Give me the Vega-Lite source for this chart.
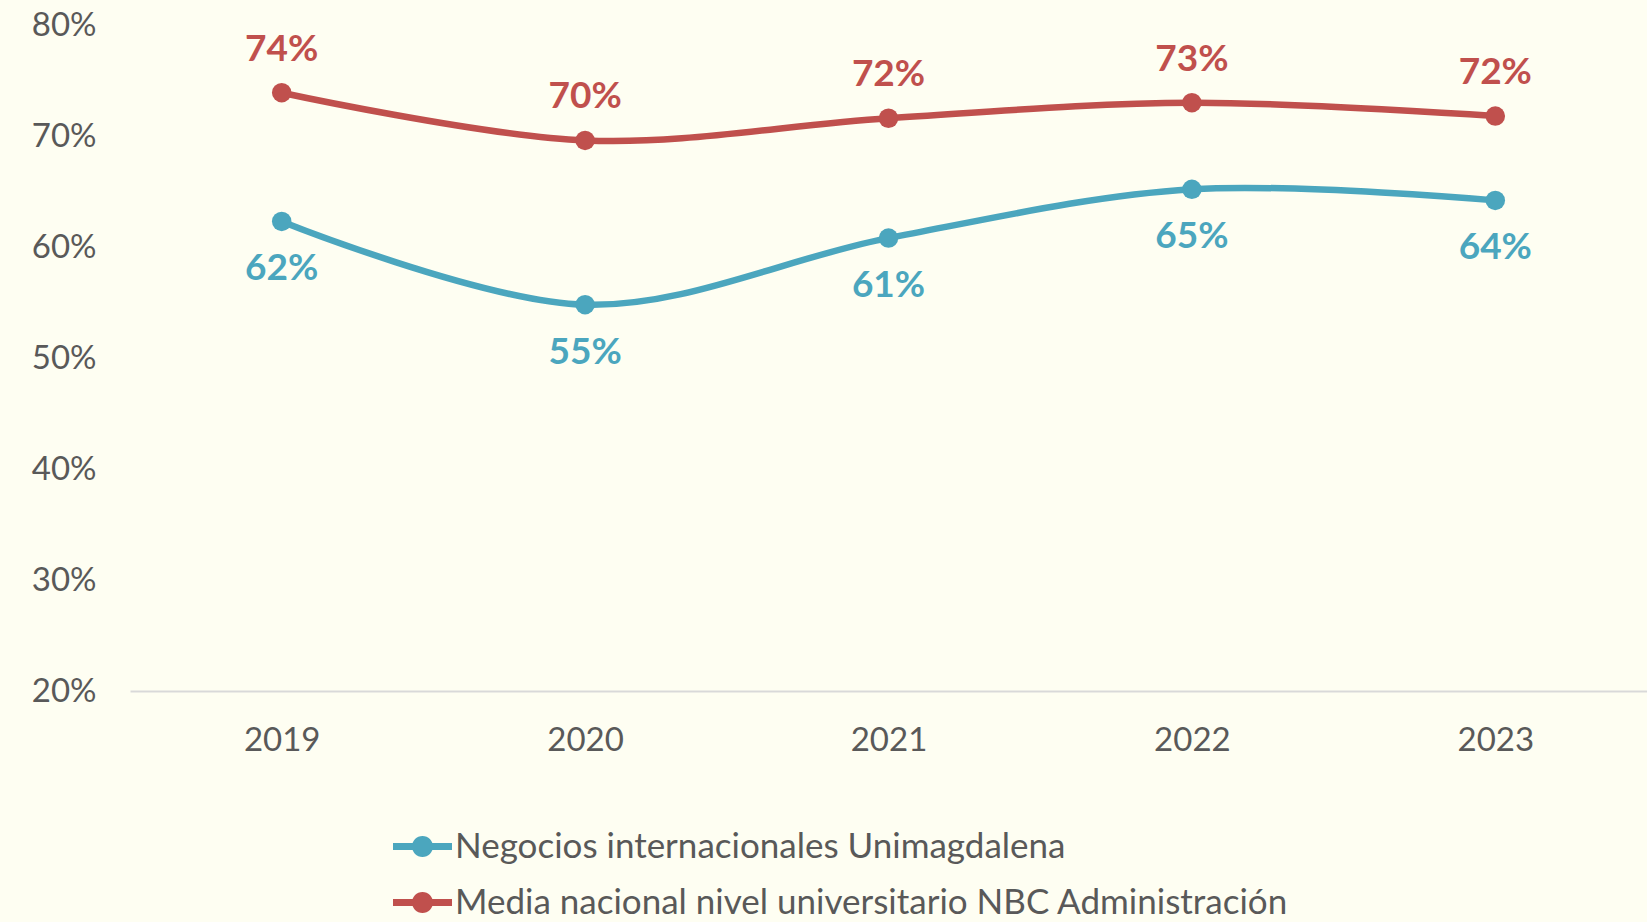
{
  "$schema": "https://vega.github.io/schema/vega-lite/v6.json",
  "width": 1517,
  "height": 666,
  "autosize": {"type": "none"},
  "padding": {"left": 130, "top": 25, "right": 0, "bottom": 231},
  "background": "#FEFEF2",
  "config": {"view": {"stroke": null}, "font": "Lato"},
  "data": {
    "values": [
      {"year": "2019", "series": "Negocios internacionales Unimagdalena", "value": 0.623},
      {"year": "2020", "series": "Negocios internacionales Unimagdalena", "value": 0.548},
      {"year": "2021", "series": "Negocios internacionales Unimagdalena", "value": 0.608},
      {"year": "2022", "series": "Negocios internacionales Unimagdalena", "value": 0.652},
      {"year": "2023", "series": "Negocios internacionales Unimagdalena", "value": 0.642},
      {"year": "2019", "series": "Media nacional nivel universitario NBC Administración", "value": 0.739},
      {"year": "2020", "series": "Media nacional nivel universitario NBC Administración", "value": 0.696},
      {"year": "2021", "series": "Media nacional nivel universitario NBC Administración", "value": 0.716},
      {"year": "2022", "series": "Media nacional nivel universitario NBC Administración", "value": 0.730},
      {"year": "2023", "series": "Media nacional nivel universitario NBC Administración", "value": 0.718}
    ]
  },
  "encoding": {
    "x": {
      "field": "year", "type": "ordinal",
      "scale": {"type": "point", "padding": 0.5},
      "axis": {"title": null, "labelAngle": 0, "ticks": false, "domainColor": "#D9D9D9", "domainWidth": 2, "labelFontSize": 33, "labelColor": "#595959", "labelPadding": 33, "grid": false}
    },
    "y": {
      "field": "value", "type": "quantitative",
      "scale": {"domain": [0.2, 0.8], "nice": false, "zero": false},
      "axis": {"title": null, "values": [0.2, 0.3, 0.4, 0.5, 0.6, 0.7, 0.8], "format": ".0%", "ticks": false, "domain": false, "grid": false, "labelFontSize": 33, "labelColor": "#595959", "labelPadding": 34}
    },
    "color": {
      "field": "series", "type": "nominal",
      "scale": {"domain": ["Negocios internacionales Unimagdalena", "Media nacional nivel universitario NBC Administración"], "range": ["#4BA6BE", "#C0504D"]},
      "legend": {
        "orient": "none", "legendX": 263, "legendY": 792, "direction": "vertical", "title": null,
        "symbolType": "M-1,-0.12L1,-0.12L1,0.12L-1,0.12Z M0.356,0A0.356,0.356,0,1,1,-0.356,0A0.356,0.356,0,1,1,0.356,0Z",
        "symbolSize": 3481, "symbolStrokeWidth": 0, "labelFontSize": 35, "labelColor": "#595959",
        "labelOffset": 3, "rowPadding": 8, "padding": 0, "symbolOpacity": 1, "labelLimit": 0,
        "encode": {"symbols": {"update": {"fill": {"scale": "color", "field": "value"}, "fillOpacity": {"value": 1}, "strokeWidth": {"value": 0}}}}
      }
    }
  },
  "layer": [
    {"mark": {"type": "line", "interpolate": "cardinal", "strokeWidth": 6.5}},
    {"mark": {"type": "circle", "size": 380, "opacity": 1}},
    {
      "transform": [{"filter": "datum.series === 'Media nacional nivel universitario NBC Administración'"}],
      "mark": {"type": "text", "dy": -43, "fontSize": 37, "fontWeight": "bold", "baseline": "middle"},
      "encoding": {"text": {"field": "value", "type": "quantitative", "format": ".0%"}}
    },
    {
      "transform": [{"filter": "datum.series === 'Negocios internacionales Unimagdalena'"}],
      "mark": {"type": "text", "dy": 48, "fontSize": 37, "fontWeight": "bold", "baseline": "middle"},
      "encoding": {"text": {"field": "value", "type": "quantitative", "format": ".0%"}}
    }
  ]
}
